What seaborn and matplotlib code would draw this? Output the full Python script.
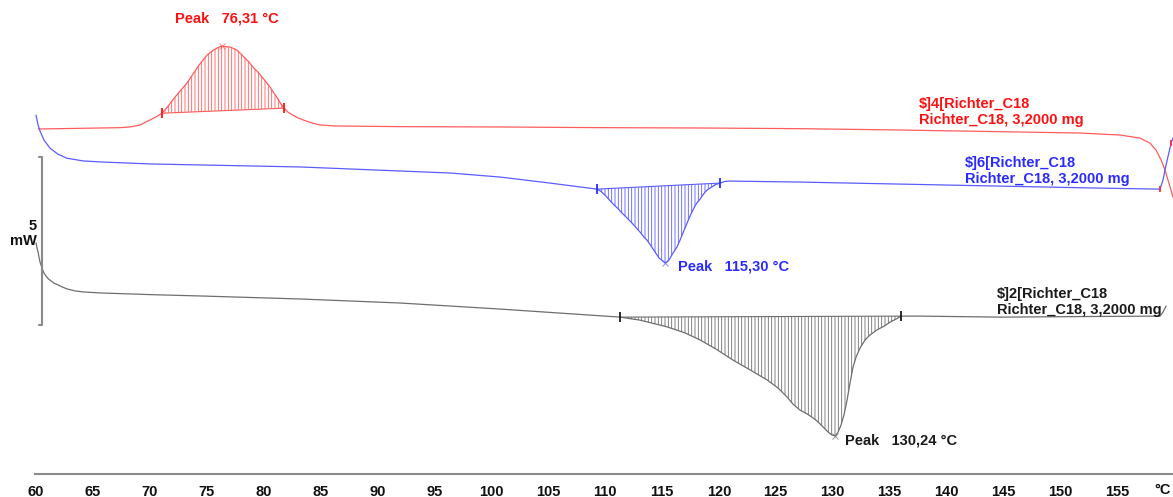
import numpy as np
import pandas as pd
import matplotlib
matplotlib.use("Agg")
import matplotlib.pyplot as plt
from matplotlib.ticker import MultipleLocator
import seaborn as sns

# --- DSC heat-flow curves (temperature in °C, heat flow in mW, curves offset) ---
red_T = [60.18, 62.11, 65.62, 67.38, 68.26, 69.14, 70.02, 70.54, 71.07, 71.60,
         72.21, 72.74, 73.27, 73.62, 73.97, 74.32, 74.67, 75.03, 75.47, 75.91,
         76.31, 76.70, 77.05, 77.40, 77.66, 78.01, 78.37, 78.72, 79.07, 79.51,
         79.86, 80.21, 80.56, 80.91, 81.27, 81.53, 81.79, 82.14, 82.58, 83.02,
         83.46, 84.25, 84.96, 86.27, 91.99, 100.77, 109.56, 118.35, 127.14, 135.92,
         144.71, 151.74, 155.26, 157.01, 157.89, 158.42, 158.86, 159.21, 159.47, 159.74,
         159.91]
red_mW = [10.27, 10.28, 10.30, 10.31, 10.33, 10.39, 10.54, 10.63, 10.74, 10.95,
          11.22, 11.43, 11.64, 11.82, 11.99, 12.17, 12.32, 12.47, 12.59, 12.68,
          12.74, 12.72, 12.71, 12.66, 12.62, 12.50, 12.38, 12.26, 12.11, 11.96,
          11.82, 11.67, 11.52, 11.34, 11.16, 11.01, 10.89, 10.77, 10.68, 10.60,
          10.54, 10.45, 10.39, 10.36, 10.34, 10.33, 10.31, 10.30, 10.28, 10.24,
          10.19, 10.15, 10.09, 10.00, 9.85, 9.64, 9.35, 9.05, 8.75, 8.45,
          8.24]
red_limits = [71.07, 81.79]
red_peak = 76.31

blue_T = [60.00, 60.18, 60.35, 60.70, 61.23, 61.93, 62.72, 64.13, 65.62, 70.02,
          74.41, 83.20, 91.99, 96.38, 100.77, 105.17, 109.30, 109.65, 110.00, 110.35,
          110.70, 111.14, 111.49, 111.85, 112.20, 112.64, 113.08, 113.43, 113.69, 114.04,
          114.39, 114.75, 115.30, 115.62, 115.98, 116.33, 116.59, 116.77, 117.03, 117.21,
          117.47, 117.64, 117.91, 118.08, 118.35, 118.52, 118.79, 118.96, 119.23, 119.49,
          119.75, 120.11, 120.54, 120.98, 127.14, 135.92, 144.71, 153.50, 158.77, 159.03,
          159.30, 159.56, 159.74, 159.91]
blue_mW = [10.68, 10.39, 10.21, 9.94, 9.70, 9.52, 9.40, 9.32, 9.29, 9.23,
           9.20, 9.14, 9.02, 8.96, 8.84, 8.66, 8.48, 8.41, 8.30, 8.17,
           8.04, 7.90, 7.77, 7.65, 7.53, 7.37, 7.20, 7.05, 6.96, 6.79,
           6.61, 6.43, 6.28, 6.37, 6.58, 6.76, 6.96, 7.11, 7.32, 7.47,
           7.68, 7.80, 7.98, 8.07, 8.18, 8.27, 8.39, 8.45, 8.51, 8.57,
           8.62, 8.66, 8.71, 8.72, 8.69, 8.63, 8.57, 8.51, 8.48, 8.75,
           9.20, 9.58, 9.85, 10.00]
blue_limits = [109.30, 120.11]
blue_peak = 115.30
blue_end_marks = [158.77, 159.74]

black_T = [60.00, 60.09, 60.18, 60.26, 60.35, 60.53, 60.70, 60.88, 61.05, 61.23,
           61.58, 61.93, 62.29, 62.72, 63.43, 64.13, 65.62, 70.02, 74.41, 83.20,
           91.99, 100.77, 106.05, 111.32, 113.08, 115.45, 117.03, 118.35, 119.75, 121.25,
           122.74, 124.24, 125.20, 126.00, 126.52, 127.14, 127.75, 128.28, 128.72, 129.16,
           129.60, 129.95, 130.24, 130.48, 130.74, 131.00, 131.27, 131.53, 131.79, 132.06,
           132.41, 132.85, 133.29, 133.90, 134.52, 135.04, 135.57, 136.01, 137.68, 144.71,
           153.50, 158.77, 159.03, 159.30]
black_mW = [6.88, 6.73, 6.61, 6.46, 6.31, 6.13, 5.98, 5.89, 5.82, 5.77,
            5.68, 5.63, 5.57, 5.51, 5.45, 5.42, 5.39, 5.34, 5.30, 5.21,
            5.09, 4.91, 4.79, 4.67, 4.58, 4.38, 4.20, 3.99, 3.72, 3.39,
            3.10, 2.80, 2.56, 2.29, 2.08, 1.90, 1.79, 1.67, 1.55, 1.40,
            1.25, 1.16, 1.13, 1.25, 1.46, 1.76, 2.20, 2.71, 3.18, 3.48,
            3.75, 3.99, 4.14, 4.29, 4.40, 4.52, 4.61, 4.70, 4.70, 4.67,
            4.69, 4.70, 4.82, 5.00]
black_limits = [111.32, 136.01]
black_peak = 130.24

sample_names = ["$]4[Richter_C18\nRichter_C18, 3,2000 mg",
                "$]6[Richter_C18\nRichter_C18, 3,2000 mg",
                "$]2[Richter_C18\nRichter_C18, 3,2000 mg"]
x_ticks = list(range(60, 160, 5))
scale_mW = 5

sns.set_style("white")
plt.rcParams["font.family"] = ["Liberation Sans", "DejaVu Sans"]
plt.rcParams["hatch.linewidth"] = 0.6

fig = plt.figure(figsize=(11.73, 4.97), dpi=100)
ax = fig.add_axes([35 / 1173, 23 / 497, 1 - 35 / 1173, 1 - 23 / 497])
ax.set_xlim(59.91, 159.91)
ax.set_ylim(0, 14.11)

FS = 10.5


def draw_curve(T, mW, limits, peak, line_color, text_color, label_xy, name, name_xy):
    df = pd.DataFrame({"T": T, "mW": mW})
    sns.lineplot(data=df, x="T", y="mW", sort=False, estimator=None,
                 color=line_color, lw=0.9, ax=ax)
    seg = df[(df["T"] >= limits[0]) & (df["T"] <= limits[1])]
    # hatched peak area, closed by the straight integration baseline
    ax.fill(seg["T"], seg["mW"], facecolor="none", edgecolor=line_color,
            linewidth=0, hatch="|||||")
    ends = seg.iloc[[0, -1]]
    ax.plot(ends["T"], ends["mW"], color=line_color, lw=0.8)
    ax.plot(ends["T"], ends["mW"], ls="none", marker="|", ms=7, mew=1.3,
            color=text_color)
    pk = df[df["T"] == peak]
    ax.plot(pk["T"], pk["mW"], ls="none", marker="x", ms=4, mew=0.7,
            color=line_color, alpha=0.7)
    ax.text(label_xy[0], label_xy[1],
            f"Peak   {peak:.2f} °C".replace(".", ","),
            color=text_color, fontsize=FS, fontweight="bold", ha="left", va="center")
    ax.text(name_xy[0], name_xy[1], name, color=text_color, fontsize=FS,
            fontweight="bold", ha="left", va="center", linespacing=1.2)
    return df


draw_curve(red_T, red_mW, red_limits, red_peak, "#ff5c5c", "#ff1010",
           (72.21, 13.57), sample_names[0], (137.59, 10.77))
blue_df = draw_curve(blue_T, blue_mW, blue_limits, blue_peak, "#5c5cff", "#2b2bff",
                     (116.41, 6.19), sample_names[1], (141.63, 9.02))
draw_curve(black_T, black_mW, black_limits, black_peak, "#6e6e6e", "#1a1a1a",
           (131.09, 1.01), sample_names[2], (144.45, 5.13))

# small red marks at the end of the blue trace
ends = blue_df[blue_df["T"].isin(blue_end_marks)]
ax.plot(ends["T"], ends["mW"], ls="none", marker="|", ms=4, mew=1.3, color="#ff3030")

# 5 mW scale bar
bar_x, bar_y0 = 60.53, 4.43
ax.plot([bar_x, bar_x], [bar_y0, bar_y0 + scale_mW], color="#8a8a8a", lw=1.5,
        clip_on=False, solid_capstyle="butt")
for yy in (bar_y0, bar_y0 + scale_mW):
    ax.plot([bar_x - 0.27, bar_x], [yy, yy], color="#8a8a8a", lw=1.5, clip_on=False)
ax.text(60.1, 7.38, f"{scale_mW}", ha="right", va="center", fontsize=FS,
        fontweight="bold", color="#111111", clip_on=False)
ax.text(60.1, 6.93, "mW", ha="right", va="center", fontsize=FS,
        fontweight="bold", color="#111111", clip_on=False)

# temperature axis
for s in ("left", "top", "right"):
    ax.spines[s].set_visible(False)
ax.spines["bottom"].set_color("#8a8a8a")
ax.spines["bottom"].set_linewidth(1.5)
ax.set_yticks([])
ax.set_xticks(x_ticks)
ax.set_xticklabels([str(t) for t in x_ticks], fontweight="bold")
ax.xaxis.set_minor_locator(MultipleLocator(1))
ax.tick_params(axis="x", which="major", direction="in", length=5, width=1,
               color="#8a8a8a", labelsize=FS, labelcolor="#111111", pad=8)
ax.tick_params(axis="x", which="minor", direction="in", length=3, width=0.8,
               color="#8a8a8a")
ax.text(159.03, -0.48, "°C", ha="center", va="center", fontsize=FS,
        fontweight="bold", color="#111111", clip_on=False)
ax.set_xlabel("")
ax.set_ylabel("")

fig.savefig("out.png", dpi=100, facecolor="white")
